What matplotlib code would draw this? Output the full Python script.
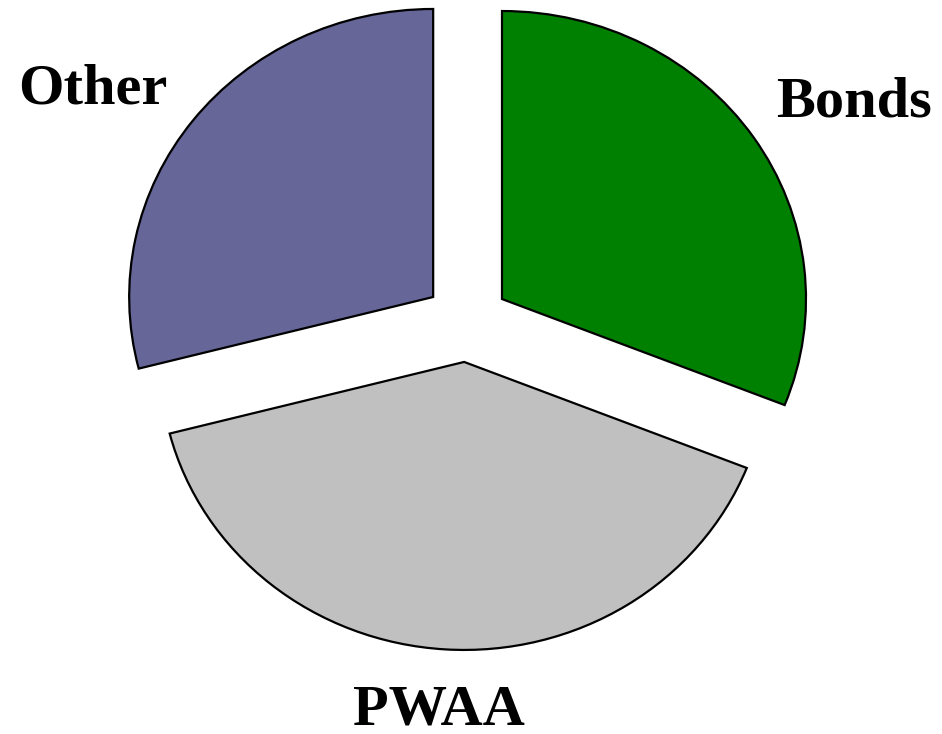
import matplotlib
matplotlib.use("Agg")
import matplotlib.pyplot as plt

# slice data (clockwise from 12 o'clock)
labels = ["Bonds", "PWAA", "Other"]
shares = [31, 40, 29]
colors = ["#008000", "#C0C0C0", "#666699"]

# label anchor points (centre x, baseline y) in units of the pie radius
label_pos = [(1.272, 0.711), (-0.093, -1.400), (-1.230, 0.756)]


def plot_pie():
    """Exploded pie with bold serif labels (slightly wider than tall)."""
    fig = plt.figure(figsize=(9.42, 7.34), dpi=100)
    ax = fig.add_axes([0, 0, 1, 1])
    wedges, _ = ax.pie(
        shares,
        colors=colors,
        startangle=90,
        counterclock=False,
        explode=[0.14] * len(shares),
        wedgeprops={"edgecolor": "black", "linewidth": 1.6},
    )
    for name, (x, y) in zip(labels, label_pos):
        ax.text(x, y, name, ha="center", va="baseline",
                fontfamily="Liberation Serif", fontweight="bold", fontsize=42)
    # the original pie is stretched: 304 px wide radius, 288 px tall radius
    ax.set_aspect("auto")
    ax.set_xlim(-466.8 / 304, (942 - 466.8) / 304)
    ax.set_ylim(-(734 - 321.7) / 288, 321.7 / 288)
    ax.axis("off")
    fig.savefig("out.png", dpi=100)


if __name__ == "__main__":
    plot_pie()
